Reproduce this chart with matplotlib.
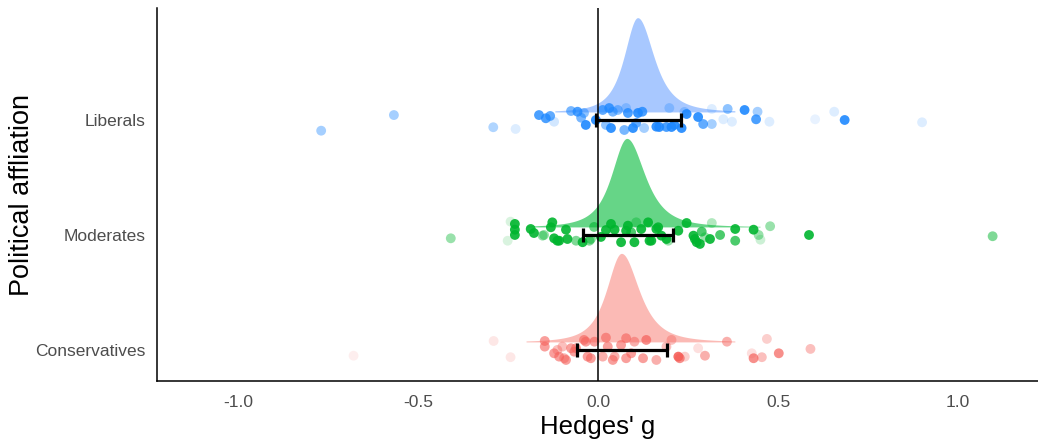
import numpy as np
import matplotlib
matplotlib.use("Agg")
import matplotlib.pyplot as plt

plt.rcParams['font.family'] = ['Liberation Sans', 'DejaVu Sans']

# ---------------- data ----------------
categories = ["Conservatives", "Moderates", "Liberals"]
x_ticks = [-1.0, -0.5, 0.0, 0.5, 1.0]
x_tick_labels = ["-1.0", "-0.5", "0.0", "0.5", "1.0"]

# individual effect sizes: value, vertical jitter, opacity
lib_g = [-0.769, -0.567, -0.291, -0.229, -0.164, -0.145, -0.133, -0.122, -0.075, -0.057,
         -0.047, -0.034, -0.039, -0.006, 0.013, 0.031, 0.041, 0.036, 0.022, 0.055,
         0.078, 0.083, 0.073, 0.097, 0.106, 0.111, 0.123, 0.128, 0.162, 0.170,
         0.190, 0.204, 0.198, 0.212, 0.232, 0.246, 0.240, 0.278, 0.292, 0.316,
         0.316, 0.348, 0.360, 0.372, 0.407, 0.439, 0.443, 0.476, 0.603, 0.656,
         0.685, 0.900]
lib_jit = [-0.093, 0.043, -0.063, -0.078, 0.043, 0.015, 0.035, -0.015, 0.078, 0.072,
           0.020, -0.043, 0.061, 0.000, 0.087, 0.104, 0.072, -0.070, -0.043, 0.087,
           0.104, 0.061, -0.087, -0.070, -0.026, 0.061, 0.072, -0.070, -0.058, -0.061,
           -0.061, -0.061, 0.104, -0.043, -0.070, 0.052, 0.070, 0.026, -0.035, -0.035,
           0.096, 0.006, 0.096, -0.015, 0.087, 0.006, 0.072, -0.015, 0.006, 0.072,
           0.000, -0.020]
lib_alpha = [0.4, 0.4, 0.35, 0.15, 0.8, 0.8, 0.7, 0.2, 0.6, 0.8,
             0.6, 0.9, 0.5, 0.9, 0.7, 0.8, 0.6, 0.9, 0.5, 0.5,
             0.3, 0.8, 0.6, 0.9, 0.7, 0.9, 0.8, 0.4, 0.9, 0.9,
             0.8, 0.9, 0.3, 0.9, 0.9, 0.9, 0.3, 0.9, 0.7, 0.4,
             0.15, 0.15, 0.5, 0.15, 0.9, 0.8, 0.4, 0.15, 0.1, 0.15,
             0.9, 0.15]

mod_g = [-0.409, -0.251, -0.243, -0.231, -0.231, -0.231, -0.187, -0.178, -0.150, -0.127,
         -0.131, -0.122, -0.113, -0.089, -0.085, -0.061, -0.043, -0.024, 0.036, 0.046,
         0.064, 0.083, 0.092, 0.101, 0.139, 0.148, 0.167, 0.176, 0.195, 0.223,
         0.246, 0.265, 0.274, 0.288, 0.316, 0.311, 0.339, 0.381, 0.381, 0.432,
         0.446, 0.451, 0.478, 0.586, 1.096, -0.154, -0.108, -0.020, 0.106, 0.120,
         0.078, 0.162, 0.143, 0.190, 0.297, 0.269, 0.283, 0.008, 0.022, -0.011]
mod_jit = [-0.029, -0.050, 0.116, 0.096, 0.046, 0.000, 0.052, 0.017, 0.000, 0.110,
           0.067, -0.029, -0.050, 0.046, -0.035, -0.050, -0.063, -0.050, 0.096, 0.046,
           -0.063, 0.081, 0.023, -0.063, 0.110, -0.050, 0.067, -0.006, -0.050, 0.037,
           0.104, -0.006, -0.063, 0.029, 0.104, -0.035, 0.000, 0.052, -0.050, 0.046,
           0.000, -0.041, 0.076, 0.000, -0.011, -0.006, -0.050, -0.035, 0.110, 0.052,
           0.037, 0.052, -0.050, -0.035, -0.020, -0.035, -0.078, -0.017, 0.043, 0.070]
mod_alpha = [0.4, 0.15, 0.15, 0.9, 0.9, 0.9, 0.9, 0.9, 0.4, 0.9,
             0.9, 0.9, 0.9, 0.9, 0.9, 0.5, 0.9, 0.5, 0.9, 0.9,
             0.9, 0.9, 0.7, 0.9, 0.9, 0.9, 0.9, 0.9, 0.4, 0.9,
             0.9, 0.9, 0.9, 0.7, 0.3, 0.9, 0.7, 0.9, 0.7, 0.9,
             0.4, 0.2, 0.4, 0.9, 0.5, 0.4, 0.9, 0.5, 0.4, 0.9,
             0.9, 0.9, 0.9, 0.9, 0.4, 0.9, 0.9, 0.9, 0.9, 0.6]

con_g = [-0.679, -0.290, -0.243, -0.148, -0.148, -0.122, -0.108, -0.089, -0.099, -0.075,
         -0.066, -0.039, -0.029, -0.010, 0.022, 0.013, 0.046, -0.020, 0.027, 0.041,
         0.064, 0.078, 0.078, 0.101, 0.134, 0.125, 0.092, 0.162, 0.190, 0.204,
         0.223, 0.227, 0.241, 0.278, 0.297, 0.358, 0.432, 0.427, 0.455, 0.469,
         0.502, 0.590, -0.061, -0.094, -0.113, -0.034]
con_jit = [-0.050, 0.078, -0.063, 0.078, 0.029, -0.029, -0.058, -0.087, 0.029, 0.015,
           -0.015, 0.087, -0.058, 0.072, 0.107, -0.058, -0.058, -0.072, 0.029, -0.087,
           0.043, -0.072, 0.102, 0.072, 0.087, -0.072, -0.029, -0.087, 0.029, 0.087,
           -0.058, -0.072, -0.058, 0.015, -0.050, 0.072, -0.072, -0.029, -0.063, 0.096,
           -0.029, 0.009, 0.015, -0.072, 0.000, 0.072]
con_alpha = [0.1, 0.15, 0.15, 0.6, 0.6, 0.6, 0.6, 0.6, 0.4, 0.6,
             0.6, 0.6, 0.6, 0.6, 0.6, 0.5, 0.5, 0.6, 0.6, 0.6,
             0.6, 0.6, 0.6, 0.5, 0.7, 0.6, 0.6, 0.5, 0.4, 0.4,
             0.9, 0.7, 0.3, 0.2, 0.5, 0.5, 0.7, 0.2, 0.4, 0.3,
             0.7, 0.4, 0.6, 0.5, 0.4, 0.6]

# pooled estimate intervals (cons, mod, lib)
ci_low = [-0.059, -0.042, -0.006]
ci_high = [0.192, 0.209, 0.230]

# pooled-estimate distribution (cons, mod, lib): centre, peak height, left / right spread, extent
dens_center = [0.065, 0.080, 0.110]
dens_height = [0.77, 0.77, 0.82]
dens_left = [0.066, 0.068, 0.060]
dens_right = [0.078, 0.080, 0.072]
dens_min = [-0.20, -0.20, -0.12]
dens_max = [0.38, 0.45, 0.38]

point_colors = ["#F5605A", "#00B52E", "#1E88FF"]
fill_colors = ["#F8766D", "#00BA38", "#619CFF"]
fill_alpha = [0.5, 0.6, 0.55]

# ---------------- figure ----------------
fig = plt.figure(figsize=(10.38, 4.40), dpi=100)
ax = fig.add_axes([157 / 1038, 1 - 381 / 440, 1 - 157 / 1038, (381 - 8) / 440])

ypos = [1, 2, 3]
slab_offset = 0.07

for i in range(3):
    xs = np.linspace(dens_min[i], dens_max[i], 600)
    z = xs - dens_center[i]
    sc = np.where(z < 0, dens_left[i], dens_right[i])
    d = dens_height[i] / (1 + (z / sc) ** 2) ** 1.6
    base = ypos[i] + slab_offset
    ax.fill_between(xs, base, base + d, color=fill_colors[i], alpha=fill_alpha[i],
                    linewidth=0, zorder=1)

groups = [(con_g, con_jit, con_alpha), (mod_g, mod_jit, mod_alpha), (lib_g, lib_jit, lib_alpha)]
for i, (g, jit, al) in enumerate(groups):
    rgba = np.array([matplotlib.colors.to_rgba(point_colors[i], a) for a in al])
    ax.scatter(g, np.array(jit) + ypos[i], s=50, c=rgba, edgecolors='none', zorder=2)

ax.axvline(0, color='black', lw=1.1, zorder=3)

for i in range(3):
    ax.errorbar([(ci_low[i] + ci_high[i]) / 2], [ypos[i]],
                xerr=[[(ci_high[i] - ci_low[i]) / 2], [(ci_high[i] - ci_low[i]) / 2]],
                fmt='none', ecolor='black', elinewidth=2.3, capsize=5, capthick=2.3, zorder=4)

ax.set_xlim(-1.225, 1.222)
ax.set_ylim(0.73, 3.974)
ax.set_yticks(ypos)
ax.set_yticklabels(categories)
ax.set_xticks(x_ticks)
ax.set_xticklabels(x_tick_labels)
ax.tick_params(axis='y', colors='#4D4D4D', labelsize=12.5, length=0, pad=8)
ax.tick_params(axis='x', colors='#4D4D4D', labelsize=12.5, length=0, pad=10)
for s in ['top', 'right']:
    ax.spines[s].set_visible(False)
for s in ['left', 'bottom']:
    ax.spines[s].set_color('black')
    ax.spines[s].set_linewidth(1.1)
ax.set_xlabel("Hedges' g", fontsize=18.5, labelpad=4)
ax.set_ylabel("Political affliation", fontsize=19.5)
ax.yaxis.set_label_coords(-0.138, 0.5)

fig.savefig("out.png", dpi=100)
